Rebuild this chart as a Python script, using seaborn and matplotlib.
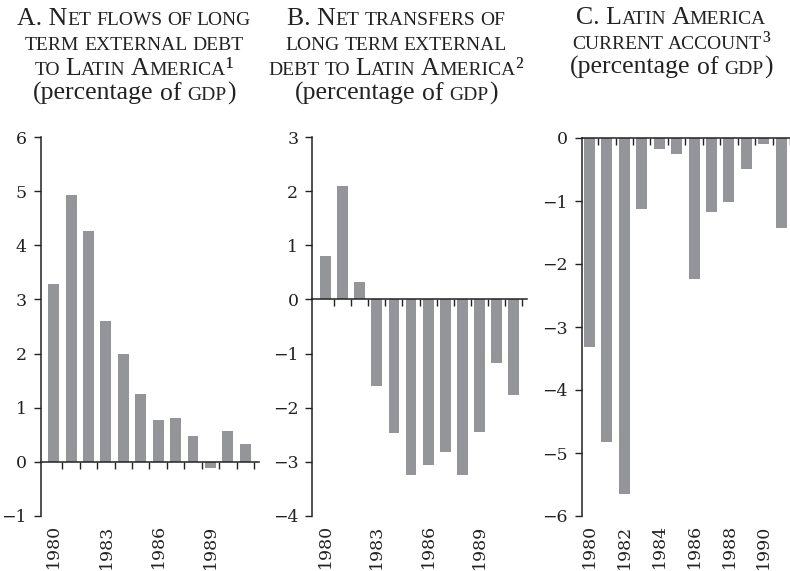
import matplotlib
matplotlib.use("Agg")
import matplotlib.pyplot as plt
import seaborn as sns
import pandas as pd

# ---------------- data ----------------
years = [1980, 1981, 1982, 1983, 1984, 1985, 1986, 1987, 1988, 1989, 1990, 1991]
net_flows = [3.29, 4.93, 4.27, 2.60, 1.99, 1.25, 0.77, 0.81, 0.48, -0.12, 0.57, 0.33]
net_transfers = [0.81, 2.09, 0.33, -1.60, -2.47, -3.25, -3.06, -2.81, -3.25, -2.45, -1.18, -1.77]
current_account = [-3.31, -4.83, -5.65, -1.12, -0.18, -0.26, -2.24, -1.18, -1.02, -0.49, -0.10, -1.43]

labels_ab = [1980, 1983, 1986, 1989]
labels_c = [1980, 1982, 1984, 1986, 1988, 1990]

yticks_a = [-1, 0, 1, 2, 3, 4, 5, 6]
yticks_b = [-4, -3, -2, -1, 0, 1, 2, 3]
yticks_c = [-6, -5, -4, -3, -2, -1, 0]

# titles: segments (text, kind) kind: 'B' big, 'S' small caps; " " = word gap
title_a = [
    [("A. N", "B"), ("ET", "S"), (" ", "S"), ("FLOWS", "S"), (" ", "S"), ("OF", "S"), (" ", "S"), ("LONG", "S")],
    [("TERM", "S"), (" ", "S"), ("EXTERNAL", "S"), (" ", "S"), ("DEBT", "S")],
    [("TO", "S"), (" ", "S"), ("L", "B"), ("ATIN", "S"), (" ", "S"), ("A", "B"), ("MERICA", "S"), ("¹", "B")],
    [("(percentage", "B"), (" ", "B"), ("of", "B"), (" ", "B"), ("GDP", "S"), (")", "B")],
]
title_b = [
    [("B. N", "B"), ("ET", "S"), (" ", "S"), ("TRANSFERS", "S"), (" ", "S"), ("OF", "S")],
    [("LONG", "S"), (" ", "S"), ("TERM", "S"), (" ", "S"), ("EXTERNAL", "S")],
    [("DEBT", "S"), (" ", "S"), ("TO", "S"), (" ", "S"), ("L", "B"), ("ATIN", "S"), (" ", "S"), ("A", "B"), ("MERICA", "S"), ("²", "B")],
    [("(percentage", "B"), (" ", "B"), ("of", "B"), (" ", "B"), ("GDP", "S"), (")", "B")],
]
title_c = [
    [("C. L", "B"), ("ATIN", "S"), (" ", "S"), ("A", "B"), ("MERICA", "S")],
    [("CURRENT", "S"), (" ", "S"), ("ACCOUNT", "S"), ("³", "B")],
    [("(percentage", "B"), (" ", "B"), ("of", "B"), (" ", "B"), ("GDP", "S"), (")", "B")],
]

# ---------------- style ----------------
sns.set_theme(style="ticks")
plt.rcParams["font.family"] = ["DejaVu Serif"]
TICK_FAMILY = ["DejaVu Serif"]
TITLE_FAMILY = ["Liberation Serif", "DejaVu Serif"]
BAR_COLOR = "#949599"
INK = "#222222"
W, H = 790, 571

fig = plt.figure(figsize=(W / 100, H / 100), dpi=100)


def px_axes(left, right, top, bottom):
    return fig.add_axes([left / W, 1 - bottom / H, (right - left) / W, (bottom - top) / H])


def panel(ax, values, ylim, yticks, xlim, label_years):
    df = pd.DataFrame({"year": [str(y) for y in years], "value": values})
    sns.barplot(data=df, x="year", y="value", color=BAR_COLOR, width=0.63,
                saturation=1, ax=ax, edgecolor="none", linewidth=0)
    n = len(years)
    ax.set_xlim(*xlim)
    ax.set_ylim(*ylim)
    ax.set_yticks(yticks)
    ax.set_yticklabels([f"{t}".replace("-", "\u2212") for t in yticks],
                       family=TICK_FAMILY, fontsize=12.5)
    ax.set_xlabel("")
    ax.set_ylabel("")
    for s in ["top", "right"]:
        ax.spines[s].set_visible(False)
    ax.spines["bottom"].set_position(("data", 0))
    for s in ["left", "bottom"]:
        ax.spines[s].set_linewidth(1.1)
        ax.spines[s].set_color(INK)
    ax.set_xticks([i + 0.5 for i in range(n)])
    ax.set_xticklabels([])
    ax.tick_params(axis="x", direction="out", length=5, width=1.0, color=INK)
    ax.tick_params(axis="y", direction="out", length=5, width=1.0, color=INK,
                   pad=5, labelcolor=INK)
    sec = ax.secondary_xaxis("bottom")
    sec.set_xticks([years.index(y) for y in label_years])
    sec.set_xticklabels([str(y) for y in label_years], rotation=90,
                        family=TICK_FAMILY, fontsize=12.5, color=INK)
    sec.tick_params(length=0, pad=6)
    sec.spines["bottom"].set_visible(False)
    ax.grid(False)


ax_a = px_axes(40.5, 259, 137, 516)
panel(ax_a, net_flows, (-1, 6), yticks_a, (-0.76, 11.79), labels_ab)
ax_b = px_axes(312.3, 527, 137, 516)
panel(ax_b, net_transfers, (-4, 3), yticks_b, (-0.77, 11.78), labels_ab)
ax_c = px_axes(581.7, 790, 138, 516)
panel(ax_c, current_account, (-6, 0), yticks_c, (-0.44, 11.3), labels_c)

# ---------------- titles ----------------
SIZES = {"B": 18.5, "S": 14.0}
renderer = fig.canvas.get_renderer()


def space_width(size):
    t1 = fig.text(0, 0, "n n", fontsize=size, family=TITLE_FAMILY)
    t2 = fig.text(0, 0, "nn", fontsize=size, family=TITLE_FAMILY)
    w = t1.get_window_extent(renderer).width - t2.get_window_extent(renderer).width
    t1.remove()
    t2.remove()
    return w


SPACE = {k: space_width(v) for k, v in SIZES.items()}


def draw_title(lines, cx, baselines):
    for line, yb in zip(lines, baselines):
        items = []
        total = 0.0
        for seg, kind in line:
            if seg == " ":
                items.append((None, SPACE[kind]))
                total += SPACE[kind]
            else:
                t = fig.text(0, 1 - yb / H, seg, fontsize=SIZES[kind], family=TITLE_FAMILY,
                             ha="left", va="baseline", color=INK)
                w = t.get_window_extent(renderer).width
                items.append((t, w))
                total += w
        x = cx - total / 2
        for t, w in items:
            if t is not None:
                t.set_x(x / W)
            x += w


draw_title(title_a, 134, [25, 50, 75, 100])
draw_title(title_b, 396, [25, 50, 75, 100])
draw_title(title_c, 671, [24, 49, 74])

fig.savefig("out.png", dpi=100)
